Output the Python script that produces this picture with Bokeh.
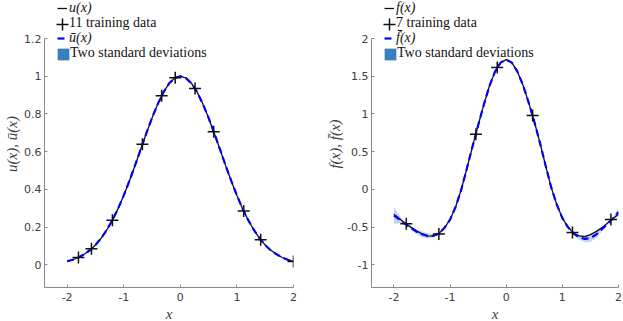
from bokeh.plotting import figure
from bokeh.layouts import row
from bokeh.models import Range1d, FixedTicker, Legend, LegendItem
from bokeh.embed import file_html
from bokeh.resources import INLINE

# ---------------- data ----------------
xs = [-2.0, -1.9, -1.8, -1.7, -1.6, -1.5, -1.4, -1.3, -1.2, -1.1, -1.0,
      -0.9, -0.8, -0.7, -0.6, -0.5, -0.4, -0.3, -0.2, -0.1, 0.0,
      0.1, 0.2, 0.3, 0.4, 0.5, 0.6, 0.7, 0.8, 0.9, 1.0,
      1.1, 1.2, 1.3, 1.4, 1.5, 1.6, 1.7, 1.8, 1.9, 2.0]

u_true = [0.018, 0.027, 0.039, 0.056, 0.077, 0.105, 0.141, 0.185, 0.237, 0.298, 0.368,
          0.445, 0.527, 0.613, 0.698, 0.779, 0.852, 0.914, 0.961, 0.990, 1.000,
          0.990, 0.961, 0.914, 0.852, 0.779, 0.698, 0.613, 0.527, 0.445, 0.368,
          0.298, 0.237, 0.185, 0.141, 0.105, 0.077, 0.056, 0.039, 0.027, 0.018]
u_mean = [0.019, 0.027, 0.039, 0.056, 0.077, 0.105, 0.141, 0.185, 0.237, 0.298, 0.368,
          0.445, 0.527, 0.613, 0.698, 0.779, 0.852, 0.914, 0.961, 0.990, 1.000,
          0.990, 0.961, 0.914, 0.852, 0.779, 0.698, 0.613, 0.527, 0.445, 0.368,
          0.298, 0.237, 0.185, 0.141, 0.105, 0.077, 0.056, 0.039, 0.027, 0.018]
u_twostd = [0.004, 0.002, 0.0, 0.001, 0.001, 0.0, 0.0, 0.001, 0.0, 0.0, 0.0,
            0.0, 0.0, 0.0, 0.0, 0.0, 0.0, 0.0, 0.0, 0.0, 0.0,
            0.0, 0.0, 0.0, 0.0, 0.0, 0.0, 0.0, 0.0, 0.0, 0.0,
            0.0, 0.0, 0.0, 0.0, 0.0, 0.0, 0.0, 0.0, 0.0, 0.0]
u_train_x = [-1.80, -1.57, -1.20, -0.67, -0.33, -0.09, 0.26, 0.59, 1.12, 1.42, 2.00]
u_train_y = [0.039, 0.085, 0.237, 0.640, 0.897, 0.992, 0.935, 0.706, 0.285, 0.133, 0.018]

f_true = [-0.33, -0.39, -0.45, -0.50, -0.55, -0.59, -0.615, -0.62, -0.585, -0.51, -0.40,
          -0.23, 0.00, 0.28, 0.57, 0.85, 1.12, 1.37, 1.56, 1.68, 1.72,
          1.68, 1.56, 1.38, 1.15, 0.90, 0.62, 0.32, 0.03, -0.20, -0.38,
          -0.50, -0.58, -0.615, -0.625, -0.60, -0.56, -0.51, -0.45, -0.385, -0.33]
f_mean = [-0.345, -0.40, -0.455, -0.51, -0.56, -0.595, -0.615, -0.615, -0.585, -0.51, -0.40,
          -0.23, 0.00, 0.28, 0.57, 0.85, 1.12, 1.37, 1.56, 1.68, 1.72,
          1.68, 1.56, 1.38, 1.15, 0.90, 0.62, 0.32, 0.03, -0.20, -0.38,
          -0.50, -0.585, -0.635, -0.655, -0.645, -0.60, -0.53, -0.46, -0.385, -0.30]
f_twostd = [0.11, 0.05, 0.005, 0.015, 0.03, 0.04, 0.035, 0.02, 0.003, 0.0, 0.0,
            0.0, 0.0, 0.0, 0.0, 0.0, 0.0, 0.0, 0.0, 0.0, 0.0,
            0.0, 0.0, 0.0, 0.0, 0.0, 0.0, 0.0, 0.0, 0.0, 0.0,
            0.0, 0.004, 0.03, 0.045, 0.05, 0.045, 0.03, 0.01, 0.01, 0.065]
f_train_x = [-1.78, -1.20, -0.54, -0.16, 0.47, 1.18, 1.865]
f_train_y = [-0.455, -0.59, 0.73, 1.615, 0.98, -0.57, -0.40]

x_ticks = [-2, -1, 0, 1, 2]
x_tick_labels = ["-2", "-1", "0", "1", "2"]
u_ticks = [0, 0.2, 0.4, 0.6, 0.8, 1, 1.2]
u_tick_labels = ["0", "0.2", "0.4", "0.6", "0.8", "1", "1.2"]
f_ticks = [-1, -0.5, 0, 0.5, 1, 1.5, 2]
f_tick_labels = ["-1", "-0.5", "0", "0.5", "1", "1.5", "2"]

legend_u = ["u(x)", "11 training data", "ū(x)", "Two standard deviations"]
legend_f = ["f(x)", "7 training data", "f\u0304(x)", "Two standard deviations"]

BAND = "#3A7EBF"
AXC = "#8a8a8a"
TXT = "#404040"

AX_TOP = 38        # pixel row of the top of the axes box
AX_H = 249         # height of the axes box
BOTTOM = 34
FH = AX_TOP + AX_H  # plotting frame reaches the top so the legend can sit above the axes
LEG_X = 13          # left edge of legend samples, from the axes' left edge
LEG_TXT = 25        # left edge of legend texts, from the axes' left edge


def add_legend(p, renderer, label, center, gw, gh, x, standoff, style="normal", font_size="14px"):
    h = max(gh, 14)
    lg = Legend(items=[LegendItem(label=label, renderers=[renderer])],
                location=(x, FH - center - h / 2),
                padding=0, margin=0, spacing=0,
                glyph_width=gw, glyph_height=gh, label_height=14,
                label_standoff=standoff,
                border_line_alpha=0, background_fill_alpha=0,
                label_text_font="Liberation Serif", label_text_font_style=style,
                label_text_font_size=font_size, label_text_color="#111111")
    p.add_layout(lg)


def panel(bl, fw, br, ylim, yticks, ylabels, ylab, truth, mean, twostd, tx, ty, leg):
    y0, y1 = ylim
    top = y1 + (y1 - y0) * AX_TOP / AX_H
    p = figure(frame_width=fw, frame_height=FH, output_backend="svg", toolbar_location=None,
               x_range=Range1d(-2.4, 2), y_range=Range1d(y0, top),
               min_border_left=bl, min_border_right=br,
               min_border_top=0, min_border_bottom=BOTTOM)
    p.outline_line_color = None
    p.xgrid.visible = False
    p.ygrid.visible = False

    lo = [m - s for m, s in zip(mean, twostd)]
    hi = [m + s for m, s in zip(mean, twostd)]
    p.varea(x=xs, y1=lo, y2=hi, fill_color=BAND, fill_alpha=0.33)
    r_true = p.line(xs, truth, line_color="#111111", line_width=1.3)
    r_mean = p.line(xs, mean, line_color="#0000ff", line_width=2.2, line_dash="7 4")
    r_pts = p.scatter(tx, ty, marker="cross", size=12, line_color="#111111", line_width=1.5)
    # legend-only handles: a zero-size square for the band, an invisible line for text-only rows
    r_band = p.scatter(tx[:1], ty[:1], marker="square", size=0,
                       fill_color=BAND, line_color=BAND, line_width=0.5)
    r_none = p.line(xs, truth, line_alpha=0)

    for ax, ticks, labels in ((p.xaxis[0], x_ticks, x_tick_labels), (p.yaxis[0], yticks, ylabels)):
        ax.ticker = FixedTicker(ticks=ticks, minor_ticks=[])
        ax.major_label_overrides = {t: l for t, l in zip(ticks, labels)}
        ax.axis_line_color = AXC
        ax.major_tick_line_color = AXC
        ax.major_tick_in = 3
        ax.major_tick_out = 0
        ax.minor_tick_line_color = None
        ax.major_label_text_font = "DejaVu Sans"
        ax.major_label_text_font_size = "11px"
        ax.major_label_text_color = TXT
        ax.axis_label_text_font = "Liberation Serif"
        ax.axis_label_text_font_style = "italic"
        ax.axis_label_text_font_size = "15px"
        ax.axis_label_text_color = TXT
    p.yaxis.bounds = (y0, y1)
    p.xaxis.axis_label = "x"
    p.yaxis.axis_label = ylab
    p.xaxis.major_label_standoff = 5
    p.xaxis.axis_label_standoff = 2
    p.yaxis.major_label_standoff = 3
    p.yaxis.axis_label_standoff = 1

    c1, c2, c3, c4 = 9, 24, 39, 54
    # row 1: true function (line sample + italic text)
    add_legend(p, r_true, leg[0], c1, 10, 14, LEG_X, LEG_TXT - LEG_X - 10, "italic")
    # row 2: training data (cross sample drawn by its own legend, text by a text-only legend)
    add_legend(p, r_pts, " ", c2, 30, 30, LEG_X + 5 - 15, 0, font_size="1px")
    add_legend(p, r_none, leg[1], c2, 1, 14, LEG_TXT - 1, 0)
    # row 3: posterior mean
    add_legend(p, r_mean, leg[2], c3, 10, 14, LEG_X, LEG_TXT - LEG_X - 10, "italic")
    # row 4: band
    add_legend(p, r_band, " ", c4, 28, 28, LEG_X + 6 - 14, 0, font_size="1px")
    add_legend(p, r_none, leg[3], c4, 1, 14, LEG_TXT, 0)
    return p


p1 = panel(44, 249, 27, (-0.12, 1.2), u_ticks, u_tick_labels, "u(x), ū(x)",
           u_true, u_mean, u_twostd, u_train_x, u_train_y, legend_u)
p2 = panel(51, 247, 5, (-1.3, 2), f_ticks, f_tick_labels, "f(x), f\u0304(x)",
           f_true, f_mean, f_twostd, f_train_x, f_train_y, legend_f)

layout = row(p1, p2)
open("out.html", "w").write(file_html(layout, INLINE))
